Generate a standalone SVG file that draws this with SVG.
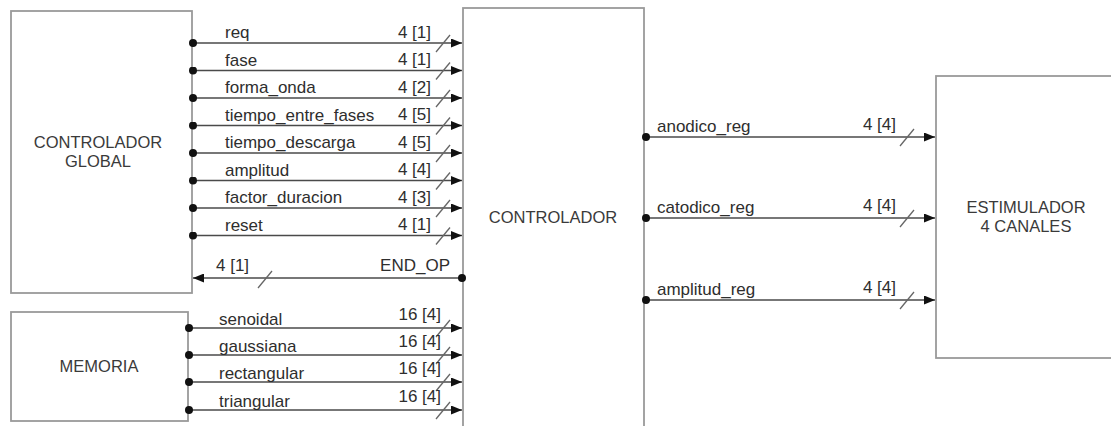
<svg xmlns="http://www.w3.org/2000/svg" width="1111" height="426" viewBox="0 0 1111 426">
  <style>
    .box { fill: #ffffff; stroke: #9a9a9a; stroke-width: 1.8; }
    .title { font-family: "Liberation Sans", Arial, sans-serif; font-size: 16.5px; fill: #3a3a3a; text-anchor: middle; }
    .sig { font-family: "Liberation Sans", Arial, sans-serif; font-size: 17px; fill: #2e2e2e; }
    .w { font-family: "Liberation Sans", Arial, sans-serif; font-size: 17px; fill: #2e2e2e; text-anchor: end; }
    .wire { stroke: #4a4a4a; stroke-width: 1.6; fill: none; }
    .bus { stroke: #666; stroke-width: 1.3; fill: none; }
  </style>
  <defs>
    <marker id="arr" viewBox="0 0 11 9" refX="11" refY="4.5" markerWidth="11" markerHeight="9" markerUnits="userSpaceOnUse" orient="auto">
      <path d="M0,0 L11,4.5 L0,9 Z" fill="#111"/>
    </marker>
    <marker id="dot" viewBox="0 0 8 8" refX="4" refY="4" markerWidth="8" markerHeight="8" markerUnits="userSpaceOnUse">
      <circle cx="4" cy="4" r="4" fill="#111"/>
    </marker>
  </defs>
  <rect width="1111" height="426" fill="#ffffff"/>

  <g id="controlador-global">
    <rect class="box" x="11" y="11" width="181" height="282"/>
    <text class="title" x="98" y="148">CONTROLADOR</text>
    <text class="title" x="98" y="167">GLOBAL</text>
  </g>

  <g id="memoria">
    <rect class="box" x="11" y="312" width="177" height="109"/>
    <text class="title" x="99" y="372">MEMORIA</text>
  </g>

  <g id="controlador">
    <rect class="box" x="463" y="8" width="181" height="430"/>
    <text class="title" x="553" y="223">CONTROLADOR</text>
  </g>

  <g id="estimulador">
    <rect class="box" x="936" y="76" width="190" height="282"/>
    <text class="title" x="1026" y="213">ESTIMULADOR</text>
    <text class="title" x="1026" y="232">4 CANALES</text>
  </g>

  <g id="connectors">
    <!-- controlador global -> controlador -->
    <g marker-start="url(#dot)" marker-end="url(#arr)" class="wire">
      <line x1="193" y1="43" x2="462" y2="43"/>
      <line x1="193" y1="70.5" x2="462" y2="70.5"/>
      <line x1="193" y1="98" x2="462" y2="98"/>
      <line x1="193" y1="125.5" x2="462" y2="125.5"/>
      <line x1="193" y1="153" x2="462" y2="153"/>
      <line x1="193" y1="180.5" x2="462" y2="180.5"/>
      <line x1="193" y1="208" x2="462" y2="208"/>
      <line x1="193" y1="235.5" x2="462" y2="235.5"/>
      <!-- END_OP back to controlador global -->
      <line x1="462" y1="278" x2="193" y2="278"/>
      <!-- memoria -> controlador -->
      <line x1="189" y1="328" x2="462" y2="328"/>
      <line x1="189" y1="355" x2="462" y2="355"/>
      <line x1="189" y1="382" x2="462" y2="382"/>
      <line x1="189" y1="410" x2="462" y2="410"/>
      <!-- controlador -> estimulador -->
      <line x1="646" y1="137" x2="935" y2="137"/>
      <line x1="646" y1="218" x2="935" y2="218"/>
      <line x1="646" y1="300" x2="935" y2="300"/>
    </g>

    <!-- bus width slashes -->
    <g class="bus">
      <line x1="436" y1="52" x2="450" y2="35"/>
      <line x1="436" y1="79.5" x2="450" y2="62.5"/>
      <line x1="436" y1="107" x2="450" y2="90"/>
      <line x1="436" y1="134.5" x2="450" y2="117.5"/>
      <line x1="436" y1="162" x2="450" y2="145"/>
      <line x1="436" y1="189.5" x2="450" y2="172.5"/>
      <line x1="436" y1="217" x2="450" y2="200"/>
      <line x1="436" y1="244.5" x2="450" y2="227.5"/>
      <line x1="258" y1="288" x2="272" y2="271"/>
      <line x1="436" y1="337" x2="450" y2="320"/>
      <line x1="436" y1="364" x2="450" y2="347"/>
      <line x1="436" y1="391" x2="450" y2="374"/>
      <line x1="436" y1="419" x2="450" y2="402"/>
      <line x1="900" y1="146" x2="914" y2="129"/>
      <line x1="900" y1="227" x2="914" y2="210"/>
      <line x1="900" y1="309" x2="914" y2="292"/>
    </g>

    <!-- signal names -->
    <text class="sig" x="225" y="38">req</text>
    <text class="sig" x="225" y="66">fase</text>
    <text class="sig" x="225" y="93">forma_onda</text>
    <text class="sig" x="225" y="121">tiempo_entre_fases</text>
    <text class="sig" x="225" y="148">tiempo_descarga</text>
    <text class="sig" x="225" y="176">amplitud</text>
    <text class="sig" x="225" y="203">factor_duracion</text>
    <text class="sig" x="225" y="231">reset</text>
    <text class="w" x="450" y="271">END_OP</text>
    <text class="sig" x="216" y="271">4 [1]</text>
    <text class="sig" x="219" y="325">senoidal</text>
    <text class="sig" x="219" y="352">gaussiana</text>
    <text class="sig" x="219" y="379">rectangular</text>
    <text class="sig" x="219" y="407">triangular</text>
    <text class="sig" x="657" y="132">anodico_reg</text>
    <text class="sig" x="657" y="213">catodico_reg</text>
    <text class="sig" x="657" y="295">amplitud_reg</text>

    <!-- widths -->
    <text class="w" x="431" y="38">4 [1]</text>
    <text class="w" x="431" y="65">4 [1]</text>
    <text class="w" x="431" y="93">4 [2]</text>
    <text class="w" x="431" y="120">4 [5]</text>
    <text class="w" x="431" y="148">4 [5]</text>
    <text class="w" x="431" y="175">4 [4]</text>
    <text class="w" x="431" y="203">4 [3]</text>
    <text class="w" x="431" y="230">4 [1]</text>
    <text class="w" x="441" y="320">16 [4]</text>
    <text class="w" x="441" y="347">16 [4]</text>
    <text class="w" x="441" y="374">16 [4]</text>
    <text class="w" x="441" y="402">16 [4]</text>
    <text class="w" x="896" y="130">4 [4]</text>
    <text class="w" x="896" y="211">4 [4]</text>
    <text class="w" x="896" y="293">4 [4]</text>
  </g>
</svg>
